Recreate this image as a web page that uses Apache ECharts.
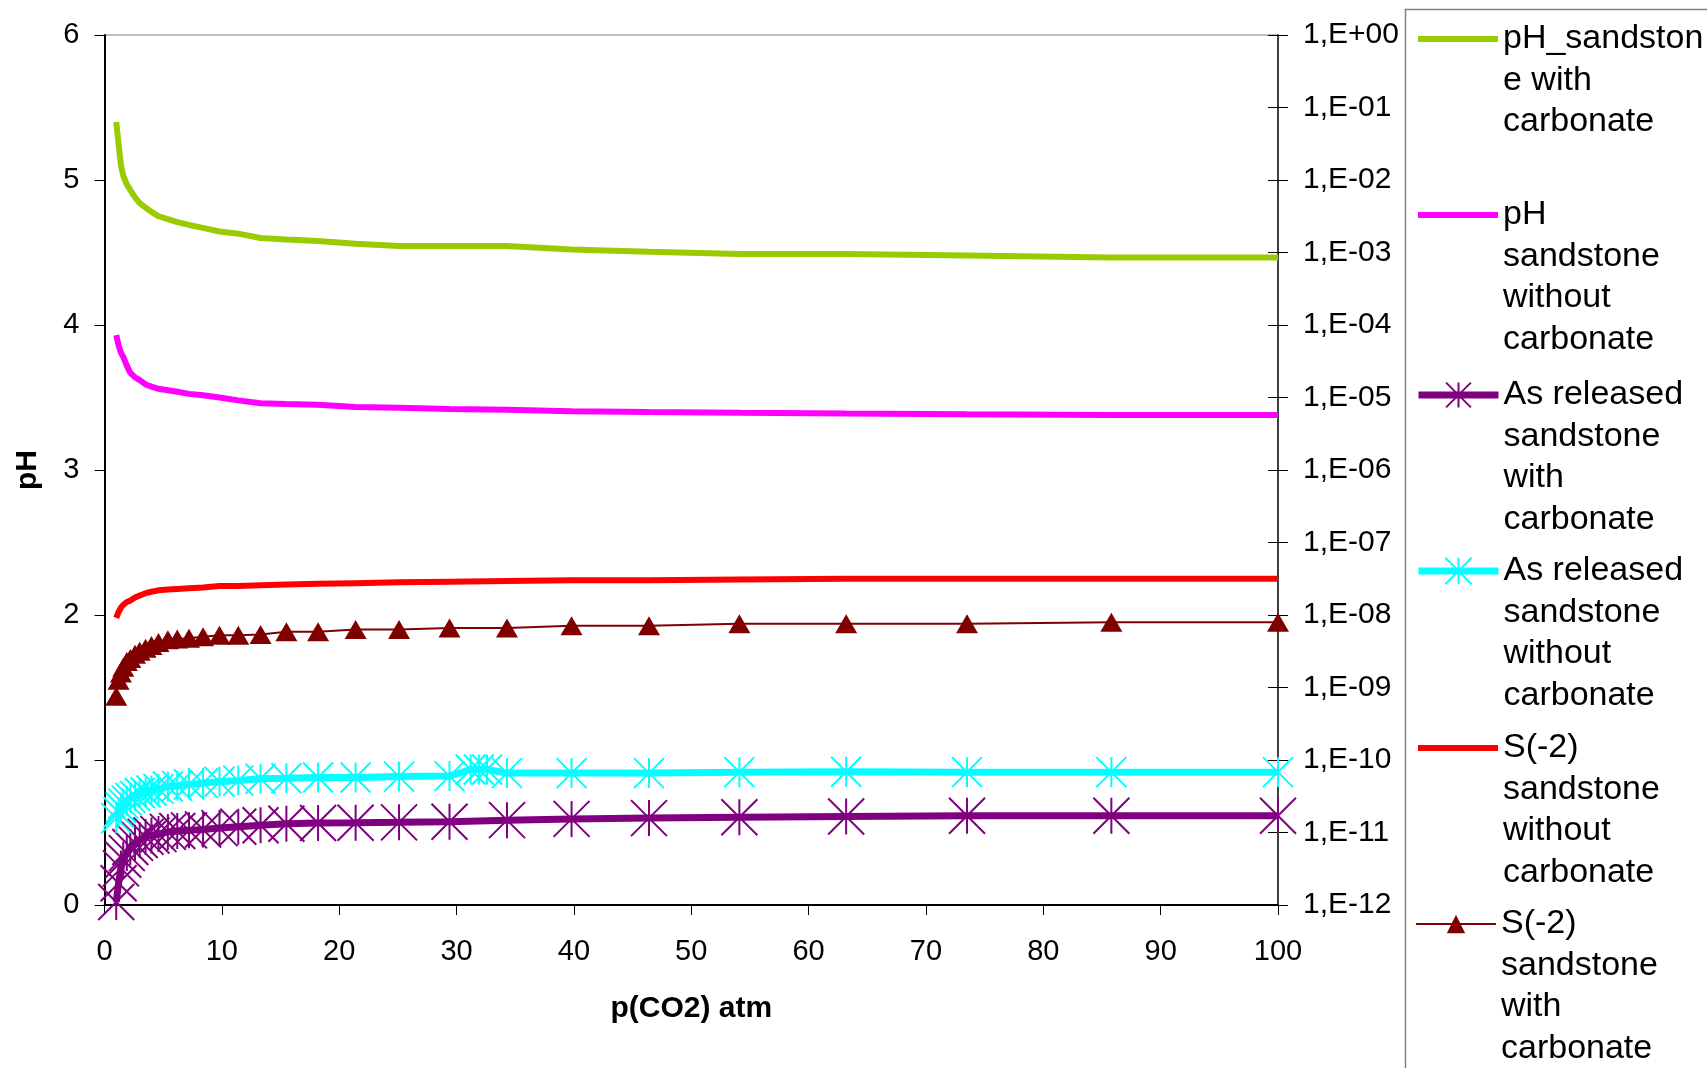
<!DOCTYPE html>
<html><head><meta charset="utf-8">
<script src="https://cdn.jsdelivr.net/npm/echarts@6/dist/echarts.min.js"></script>
<style>html,body{margin:0;padding:0;background:#fff}#chart{width:1707px;height:1068px}</style>
</head><body><div id="chart"></div>
<script>
// p(CO2) in atm
const pco2 = [1,1.2,1.4,1.6,1.9,2.2,2.6,3,3.5,4,4.6,5.4,6.2,7.2,8.4,9.8,11.4,13.3,15.5,18.2,21.4,25.1,29.4,34.3,39.8,46.4,54.1,63.2,73.5,85.8,100];
const pco2Cyan = [1,1.2,1.4,1.6,1.9,2.2,2.6,3,3.5,4,4.6,5.4,6.2,7.2,8.4,9.8,11.4,13.3,15.5,18.2,21.4,25.1,29.4,31.2,31.9,32.6,34.3,39.8,46.4,54.1,63.2,73.5,85.8,100];
// pH (left axis)
const phWithCarb = [5.40,5.25,5.10,5.03,4.97,4.93,4.88,4.84,4.81,4.78,4.75,4.73,4.71,4.69,4.67,4.645,4.63,4.60,4.59,4.58,4.56,4.545,4.545,4.545,4.52,4.505,4.49,4.49,4.48,4.465,4.465];
const phWithoutCarb = [3.93,3.86,3.81,3.78,3.72,3.67,3.64,3.62,3.59,3.575,3.56,3.55,3.54,3.525,3.515,3.50,3.48,3.46,3.455,3.45,3.435,3.43,3.42,3.415,3.405,3.40,3.395,3.39,3.385,3.38,3.38];
// concentrations (right log axis)
const asWithCarb = [1.1e-12,2.0e-12,3.2e-12,4.2e-12,5.2e-12,6.3e-12,7.2e-12,7.9e-12,8.7e-12,9.1e-12,9.5e-12,1.02e-11,1.05e-11,1.07e-11,1.10e-11,1.15e-11,1.20e-11,1.26e-11,1.32e-11,1.35e-11,1.36e-11,1.38e-11,1.41e-11,1.48e-11,1.54e-11,1.58e-11,1.62e-11,1.66e-11,1.70e-11,1.70e-11,1.70e-11];
const asWithoutCarb = [1.58e-11,1.9e-11,2.2e-11,2.5e-11,2.75e-11,3.0e-11,3.2e-11,3.5e-11,3.6e-11,3.8e-11,4.0e-11,4.3e-11,4.4e-11,4.6e-11,4.8e-11,5.0e-11,5.2e-11,5.5e-11,5.6e-11,5.75e-11,5.75e-11,5.9e-11,6.0e-11,7.4e-11,7.4e-11,7.4e-11,6.6e-11,6.6e-11,6.6e-11,6.8e-11,6.9e-11,6.8e-11,6.8e-11,6.8e-11];
const s2WithoutCarb = [9.1e-9,1.10e-8,1.26e-8,1.38e-8,1.51e-8,1.58e-8,1.74e-8,1.86e-8,2.0e-8,2.09e-8,2.19e-8,2.24e-8,2.29e-8,2.34e-8,2.40e-8,2.51e-8,2.51e-8,2.57e-8,2.63e-8,2.69e-8,2.75e-8,2.82e-8,2.88e-8,2.95e-8,3.02e-8,3.02e-8,3.09e-8,3.16e-8,3.16e-8,3.16e-8,3.16e-8];
const s2WithCarb = [7.6e-10,1.26e-9,1.58e-9,1.91e-9,2.29e-9,2.51e-9,2.88e-9,3.16e-9,3.47e-9,3.80e-9,4.17e-9,4.57e-9,4.68e-9,4.79e-9,5.01e-9,5.25e-9,5.25e-9,5.37e-9,5.89e-9,5.89e-9,6.31e-9,6.31e-9,6.61e-9,6.61e-9,7.08e-9,7.08e-9,7.59e-9,7.59e-9,7.59e-9,7.94e-9,7.94e-9];

const seriesNames = ['pH_sandstone with carbonate','pH sandstone without carbonate','As released sandstone with carbonate','As released sandstone without carbonate','S(-2) sandstone without carbonate','S(-2) sandstone with carbonate'];
const legendLabels = ['pH_sandston\ne with\ncarbonate','pH\nsandstone\nwithout\ncarbonate','As released\nsandstone\nwith\ncarbonate','As released\nsandstone\nwithout\ncarbonate','S(-2)\nsandstone\nwithout\ncarbonate','S(-2)\nsandstone\nwith\ncarbonate'];
const xTitle = 'p(CO2) atm';
const yTitle = 'pH';

const FONT = '"Liberation Sans", Arial, sans-serif';
const STAR = 'path://M0,0L10,10M10,0L0,10M5,0L5,10';
const pairs = (xs, ys) => xs.map((x, i) => [x, ys[i]]);

function logLabel(v) {
  const e = Math.round(Math.log10(v));
  const a = Math.abs(e);
  return '1,E' + (e >= 0 ? '+' : '-') + (a < 10 ? '0' : '') + a;
}

const lineWidths = [6, 6, 7, 7, 6, 2];
const series = [
  {name: seriesNames[0], type: 'line', yAxisIndex: 0, data: pairs(pco2, phWithCarb), symbol: 'none',
   lineStyle: {color: '#99CC00', width: lineWidths[0]}, itemStyle: {color: '#99CC00'}},
  {name: seriesNames[1], type: 'line', yAxisIndex: 0, data: pairs(pco2, phWithoutCarb), symbol: 'none',
   lineStyle: {color: '#FF00FF', width: lineWidths[1]}, itemStyle: {color: '#FF00FF'}},
  {name: seriesNames[2], type: 'line', yAxisIndex: 1, data: pairs(pco2, asWithCarb), symbol: STAR, symbolSize: 36,
   lineStyle: {color: '#800080', width: lineWidths[2]}, itemStyle: {color: '#800080', borderColor: '#800080', borderWidth: 2}},
  {name: seriesNames[3], type: 'line', yAxisIndex: 1, data: pairs(pco2Cyan, asWithoutCarb), symbol: STAR, symbolSize: 30,
   lineStyle: {color: '#00FFFF', width: lineWidths[3]}, itemStyle: {color: '#00FFFF', borderColor: '#00FFFF', borderWidth: 2}},
  {name: seriesNames[4], type: 'line', yAxisIndex: 1, data: pairs(pco2, s2WithoutCarb), symbol: 'none',
   lineStyle: {color: '#FF0000', width: lineWidths[4]}, itemStyle: {color: '#FF0000'}},
  {name: seriesNames[5], type: 'line', yAxisIndex: 1, data: pairs(pco2, s2WithCarb), symbol: 'triangle', symbolSize: [22, 19],
   lineStyle: {color: '#800000', width: lineWidths[5]}, itemStyle: {color: '#800000'}}
].map(s => Object.assign(s, {clip: false, showSymbol: s.symbol !== 'none', animation: false, silent: true}));

const LH = 41.5;
const legendCenters = [39, 215, 395, 571, 748, 924];
const legendIconH = [14, 14, 31, 33, 14, 23];
const legendColors = ['#99CC00', '#FF00FF', '#800080', '#00FFFF', '#FF0000', '#800000'];
const legends = seriesNames.map((name, i) => {
  const n = legendLabels[i].split('\n').length;
  const H = (2 * n - 1) * LH;
  const hasMarker = i === 2 || i === 3 || i === 5;
  const label = '\n'.repeat(n - 1) + legendLabels[i];
  const lg = {
    data: [name], orient: 'vertical', left: 1415, top: legendCenters[i] - H / 2, padding: 0,
    itemWidth: 80, itemHeight: legendIconH[i], itemGap: 0, selectedMode: false,
    formatter: () => label,
    lineStyle: {width: lineWidths[i], color: legendColors[i]},
    textStyle: {fontSize: 34, lineHeight: LH, color: '#000', fontFamily: FONT}
  };
  if (!hasMarker) lg.itemStyle = {opacity: 0};
  return lg;
});

const option = {
  animation: false,
  backgroundColor: '#fff',
  grid: {left: 104.5, right: 429, top: 35, bottom: 163, containLabel: false, show: true, borderColor: '#808080', borderWidth: 1},
  legend: legends,
  xAxis: {
    type: 'value', min: 0, max: 100, interval: 10,
    name: xTitle, nameLocation: 'middle', nameGap: 89,
    nameTextStyle: {fontSize: 30, fontWeight: 'bold', color: '#000', fontFamily: FONT},
    axisLine: {lineStyle: {color: '#000', width: 2}},
    axisTick: {show: true, length: 10, lineStyle: {color: '#000', width: 1}},
    axisLabel: {fontSize: 29, color: '#000', fontFamily: FONT, margin: 32},
    splitLine: {show: false}
  },
  yAxis: [
    {type: 'value', min: 0, max: 6, interval: 1, position: 'left',
     name: yTitle, nameLocation: 'middle', nameRotate: 90, nameGap: 62,
     nameTextStyle: {fontSize: 30, fontWeight: 'bold', color: '#000', fontFamily: FONT},
     axisLine: {show: true, lineStyle: {color: '#000', width: 2}},
     axisTick: {show: true, length: 10, lineStyle: {color: '#000'}},
     axisLabel: {fontSize: 29, color: '#000', fontFamily: FONT, margin: 25},
     splitLine: {show: false}},
    {type: 'log', logBase: 10, min: 1e-12, max: 1, interval: 1, position: 'right',
     axisLine: {show: true, lineStyle: {color: '#404040', width: 2}},
     axisTick: {show: true, length: 10, lineStyle: {color: '#000'}},
     axisLabel: {fontSize: 30, color: '#000', fontFamily: FONT, margin: 25, formatter: logLabel},
     splitLine: {show: false}, minorTick: {show: false}},
    {type: 'log', logBase: 10, min: 1e-12, max: 1, interval: 1, position: 'right',
     axisLine: {show: false},
     axisTick: {show: true, inside: true, length: 10, lineStyle: {color: '#000'}},
     axisLabel: {show: false}, splitLine: {show: false}}
  ],
  graphic: [
    {type: 'rect', shape: {x: 1405.5, y: 9.5, width: 400, height: 1100}, style: {fill: 'none', stroke: '#808080', lineWidth: 1.5}, z: -1, silent: true}
  ],
  series: series
};

const chart = echarts.init(document.getElementById('chart'), null, {renderer: 'canvas'});
chart.setOption(option);
</script>
</body></html>
